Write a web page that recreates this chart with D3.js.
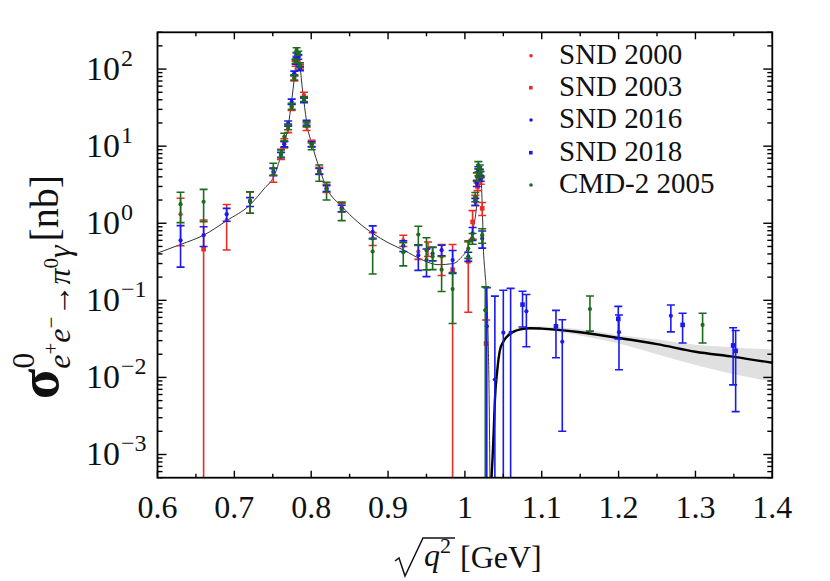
<!DOCTYPE html>
<html><head><meta charset="utf-8">
<script src="https://cdn.jsdelivr.net/npm/d3@7"></script>
<style>body{margin:0;background:#fff} text{font-family:"Liberation Serif","Times New Roman",serif;fill:#111}</style>
</head><body><svg id="c" width="830" height="581"></svg>
<script>
// ---------- data ----------
const xTicks = [0.6,0.7,0.8,0.9,1.0,1.1,1.2,1.3,1.4];
const xTickLabels = ["0.6","0.7","0.8","0.9","1","1.1","1.2","1.3","1.4"];
const yTickExps = [2,1,0,-1,-2,-3];

// thin fit curve (full range incl. omega and phi)
const thinX = [0.600,0.630,0.660,0.690,0.720,0.740,0.750,0.755,0.760,0.765,0.770,0.7746,0.777,0.779,0.7805,0.7825,0.7845,0.786,0.788,0.7904,0.795,0.8006,0.8114,0.820,0.840,0.860,0.880,0.900,0.920,0.946,0.965,0.985,0.994,1.004,1.010,1.014,1.016,1.018,1.0195,1.021,1.023,1.024,1.026,1.028,1.030,1.0315,1.0328];
const thinY = [0.41,0.53,0.70,1.08,1.72,2.9,3.8,5.0,7.2,10.5,18,39,62,95,138,165,138,99,62,39,18,10.9,4.9,2.9,1.65,1.05,0.74,0.56,0.45,0.33,0.29,0.30,0.35,0.49,0.80,1.3,2.0,3.9,5.3,4.0,1.2,0.5,0.24,0.13,0.04,0.006,0.0003];

// thick fit curve above phi and its uncertainty band
const fitX = [1.0335,1.036,1.0375,1.039,1.042,1.0456,1.050,1.055,1.063,1.072,1.085,1.10,1.15,1.20,1.25,1.30,1.35,1.40];
const fitY = [0.0003,0.0009,0.002,0.005,0.012,0.0226,0.029,0.034,0.039,0.042,0.0435,0.043,0.0385,0.0325,0.027,0.0215,0.0185,0.0155];
const bandX = [1.036,1.04,1.05,1.06,1.08,1.10,1.15,1.20,1.25,1.30,1.35,1.40];
const bandLo = [0.0008,0.0060,0.0275,0.036,0.0415,0.041,0.035,0.0275,0.020,0.0145,0.011,0.0088];
const bandHi = [0.0011,0.0072,0.031,0.040,0.0455,0.0458,0.042,0.0355,0.031,0.0265,0.0245,0.023];

// SND 2000
const snd2000X = [0.630,0.690,0.7204,0.7507,0.7607,0.765,0.770,0.7746,0.778,0.7798,0.781,0.7854,0.7906,0.794,0.8006,0.8105,0.820,0.8397,0.880,0.9198,0.9394,0.952,0.9697];
const snd2000Y = [1.31,1.10,1.95,4.3,7.9,11.0,17,32,76,118,137,107,46,18,10.9,4.8,2.85,1.6,0.635,0.60,0.43,0.47,0.37];
const snd2000E = [0.80,0.65,0.6,0.9,1.2,1.5,2,3,6,9,10,8,4,2,1,0.5,0.35,0.2,0.12,0.10,0.09,0.1,0.16];
// SND 2003
const snd2003X = [0.660,0.984,1.0044,1.010,1.0135,1.0165,1.0175,1.0195,1.0205,1.0225,1.0275];
const snd2003Y = [0.46,0.25,0.32,1.04,2.0,3.0,4.6,4.3,3.6,1.56,0.0275];
const snd2003E = [0.64,0.28,0.25,0.42,0.3,0.35,0.45,0.4,0.4,0.3,0.028];
// SND 2016
const snd2016X = [0.630,0.660,0.690,0.7204,0.7507,0.7607,0.765,0.770,0.7746,0.778,0.7798,0.781,0.7832,0.7854,0.7906,0.794,0.8006,0.8105,0.820,0.8397,0.880,0.9198,0.9394,0.950,0.958,0.9697,0.984,1.0044,1.010,1.0135,1.0155,1.0175,1.0195,1.0205,1.0225,1.0285,1.039,1.050,1.0595,1.080,1.1267,1.2005,1.268];
const snd2016Y = [0.60,0.70,1.31,1.90,4.65,7.7,10.6,19.7,37.7,88,124,152,144,102,39.6,20.1,10.6,4.74,2.83,1.56,0.775,0.51,0.385,0.333,0.405,0.448,0.333,0.37,0.74,1.9,3.3,5.0,4.6,3.8,0.635,0.046,0.0094,0.038,0.038,0.072,0.029,0.0386,0.063];
const snd2016E = [0.33,0.20,0.25,0.25,0.5,0.6,0.8,1.5,3,6,8,10,10,7,3,1.5,0.8,0.4,0.25,0.15,0.15,0.08,0.14,0.13,0.08,0.07,0.11,0.05,0.14,0.2,0.3,0.4,0.4,0.3,0.16,0.1,0.104,0.097,0.105,0.047,0.027,0.026,0.024];
// SND 2018
const snd2018X = [1.075,1.1185,1.1996,1.2833,1.349,1.3523];
const snd2018Y = [0.088,0.046,0.0575,0.048,0.026,0.0221];
const snd2018E = [0.043,0.028,0.026,0.02,0.018,0.0185];
// CMD-2 2005
const cmdX = [0.630,0.660,0.7204,0.7507,0.7607,0.765,0.770,0.7746,0.778,0.7798,0.781,0.7832,0.7854,0.7906,0.794,0.8006,0.8105,0.820,0.8397,0.880,0.9198,0.9394,0.950,0.958,0.9697,0.984,1.0044,1.010,1.0135,1.0155,1.0175,1.0195,1.0205,1.0225,1.0265,1.1627,1.3093];
const cmdY = [1.77,1.90,1.95,5.1,8.05,13.2,17.8,33,78,127,177,160,113,41,19.3,10,4.6,2.7,1.48,0.43,0.42,0.714,0.448,0.37,0.25,0.14,0.47,0.635,2.2,4.0,5.7,5.2,4.3,0.70,0.0746,0.0769,0.048];
const cmdE = [0.75,0.85,0.6,0.9,0.9,1.5,1.5,3,6,8,12,10,8,3,1.5,1,1.1,0.7,0.4,0.21,0.14,0.2,0.2,0.12,0.12,0.09,0.12,0.1,0.3,0.5,0.6,0.5,0.4,0.15,0.075,0.037,0.02];

const seriesNames = ["SND 2000","SND 2003","SND 2016","SND 2018","CMD-2 2005"];
const seriesColors = ["#ee2a22","#ee2a22","#1a1aee","#1a1aee","#1d6b1d"];
const seriesMarkers = ["circle","square","circle","square","circle"];

// ---------- setup ----------
const svg = d3.select("#c");
const L=157.5, R=772.3, T=32.3, B=477.7;
const x = d3.scaleLinear().domain([0.6,1.4]).range([L,R]);
const y = d3.scaleLog().domain([5e-4,300]).range([B,T]);

svg.append("defs").append("clipPath").attr("id","clip")
  .append("rect").attr("x",L).attr("y",T).attr("width",R-L).attr("height",B-T);
const plot = svg.append("g").attr("clip-path","url(#clip)");

// band
const bandPts = bandX.map((v,i)=>({x:v,lo:bandLo[i],hi:bandHi[i]}));
plot.append("path").datum(bandPts)
  .attr("d", d3.area().x(d=>x(d.x)).y0(d=>y(d.lo)).y1(d=>y(d.hi)).curve(d3.curveMonotoneX))
  .attr("fill","#e0e0e0");

// thin curve
const thinPts = thinX.map((v,i)=>[v,thinY[i]]);
plot.append("path").datum(thinPts)
  .attr("d", d3.line().x(d=>x(d[0])).y(d=>y(d[1])).curve(d3.curveMonotoneX))
  .attr("fill","none").attr("stroke","#333").attr("stroke-width",1);

// thick curve
const fitPts = fitX.map((v,i)=>[v,fitY[i]]);
plot.append("path").datum(fitPts)
  .attr("d", d3.line().x(d=>x(d[0])).y(d=>y(d[1])).curve(d3.curveMonotoneX))
  .attr("fill","none").attr("stroke","#000").attr("stroke-width",2.4);

// data series
const allSeries = [
  [snd2000X,snd2000Y,snd2000E],[snd2003X,snd2003Y,snd2003E],
  [snd2016X,snd2016Y,snd2016E],[snd2018X,snd2018Y,snd2018E],[cmdX,cmdY,cmdE]];
const capW = 4;
allSeries.forEach((s,k)=>{
  const col = seriesColors[k];
  const pts = s[0].map((v,i)=>({x:v,y:s[1][i],e:s[2][i]}));
  const g = plot.append("g");
  pts.forEach(p=>{
    const cx = x(p.x);
    const yh = y(p.y+p.e);
    const lo = p.y-p.e;
    const yl = lo>0 ? y(lo) : B+10;
    g.append("line").attr("x1",cx).attr("x2",cx).attr("y1",yh).attr("y2",yl)
      .attr("stroke",col).attr("stroke-width",1.6);
    g.append("line").attr("x1",cx-capW).attr("x2",cx+capW).attr("y1",yh).attr("y2",yh)
      .attr("stroke",col).attr("stroke-width",1.6);
    if(lo>0) g.append("line").attr("x1",cx-capW).attr("x2",cx+capW).attr("y1",yl).attr("y2",yl)
      .attr("stroke",col).attr("stroke-width",1.6);
    if(seriesMarkers[k]==="circle") g.append("circle").attr("cx",cx).attr("cy",y(p.y)).attr("r",2.1).attr("fill",col);
    else g.append("rect").attr("x",cx-2.3).attr("y",y(p.y)-2.3).attr("width",4.6).attr("height",4.6).attr("fill",col);
  });
});

// ---------- axes ----------
const ax = svg.append("g").attr("stroke","#000").attr("stroke-width",1.4);
ax.append("rect").attr("x",L).attr("y",T).attr("width",R-L).attr("height",B-T).attr("fill","none").attr("stroke-width",1.8);
const xMinor = d3.range(0.65,1.4,0.1);
xTicks.forEach(v=>{
  ax.append("line").attr("x1",x(v)).attr("x2",x(v)).attr("y1",B).attr("y2",B-7);
  ax.append("line").attr("x1",x(v)).attr("x2",x(v)).attr("y1",T).attr("y2",T+7);
});
xMinor.forEach(v=>{
  ax.append("line").attr("x1",x(v)).attr("x2",x(v)).attr("y1",B).attr("y2",B-4);
  ax.append("line").attr("x1",x(v)).attr("x2",x(v)).attr("y1",T).attr("y2",T+4);
});
for(let ex=-4; ex<=2; ex++){
  for(let m=1;m<=9;m++){
    const v = m*Math.pow(10,ex);
    if(v<5e-4 || v>300) continue;
    const len = m===1?9:5;
    ax.append("line").attr("x1",L).attr("x2",L+len).attr("y1",y(v)).attr("y2",y(v));
    ax.append("line").attr("x1",R).attr("x2",R-len).attr("y1",y(v)).attr("y2",y(v));
  }
}
// x tick labels
xTicks.forEach((v,i)=>{
  svg.append("text").attr("x",x(v)).attr("y",518).attr("text-anchor","middle")
    .attr("font-size",32).text(xTickLabels[i]);
});
// y tick labels
yTickExps.forEach(ex=>{
  const t = svg.append("text").attr("x",86).attr("y",y(Math.pow(10,ex))+11).attr("font-size",34);
  t.append("tspan").text("10");
  t.append("tspan").attr("font-size",24).attr("dy",-14).attr("dx",1).text(ex<0?"\u2212"+(-ex):String(ex));
});

// x axis title: sqrt(q^2) [GeV]
svg.append("path").attr("d","M395,561 L399,558 L405,576 L423,538 L455,538")
  .attr("fill","none").attr("stroke","#111").attr("stroke-width",1.5);
const xt = svg.append("text").attr("x",424).attr("y",566).attr("font-size",32);
xt.append("tspan").attr("font-style","italic").text("q");
xt.append("tspan").attr("font-size",22).attr("dy",-13).text("2");
svg.append("text").attr("x",460).attr("y",568).attr("font-size",32).text("[GeV]");

// y axis title
const yt = svg.append("text").attr("transform","translate(58,287) rotate(-90)")
  .attr("text-anchor","middle").attr("font-size",56);
yt.append("tspan").attr("font-weight","bold").text("\u03c3");
yt.append("tspan").attr("font-size",32).attr("dy",-24).text("0");
yt.append("tspan").attr("font-size",32).attr("font-style","italic").attr("dx",-16).attr("dy",36).text("e");
yt.append("tspan").attr("font-size",21).attr("dy",-12).text("+");
yt.append("tspan").attr("font-size",32).attr("font-style","italic").attr("dy",12).text("e");
yt.append("tspan").attr("font-size",21).attr("dy",-12).text("\u2212");
yt.append("tspan").attr("font-size",32).attr("dy",12).text("\u2192");
yt.append("tspan").attr("font-size",32).attr("font-style","italic").text("\u03c0");
yt.append("tspan").attr("font-size",21).attr("dy",-12).text("0");
yt.append("tspan").attr("font-size",32).attr("font-style","italic").attr("dy",12).text("\u03b3");
yt.append("tspan").attr("font-size",40).attr("dy",-12).attr("dx",4).text("[nb]");

// legend
const legY = [55.7,87.7,120,152.7,185];
seriesNames.forEach((n,i)=>{
  const col = seriesColors[i];
  if(seriesMarkers[i]==="circle") svg.append("circle").attr("cx",531).attr("cy",legY[i]).attr("r",1.8).attr("fill",col);
  else svg.append("rect").attr("x",529).attr("y",legY[i]-1.8).attr("width",3.6).attr("height",3.6).attr("fill",col);
  svg.append("text").attr("x",559).attr("y",legY[i]+8).attr("font-size",29).text(n);
});
</script></body></html>
